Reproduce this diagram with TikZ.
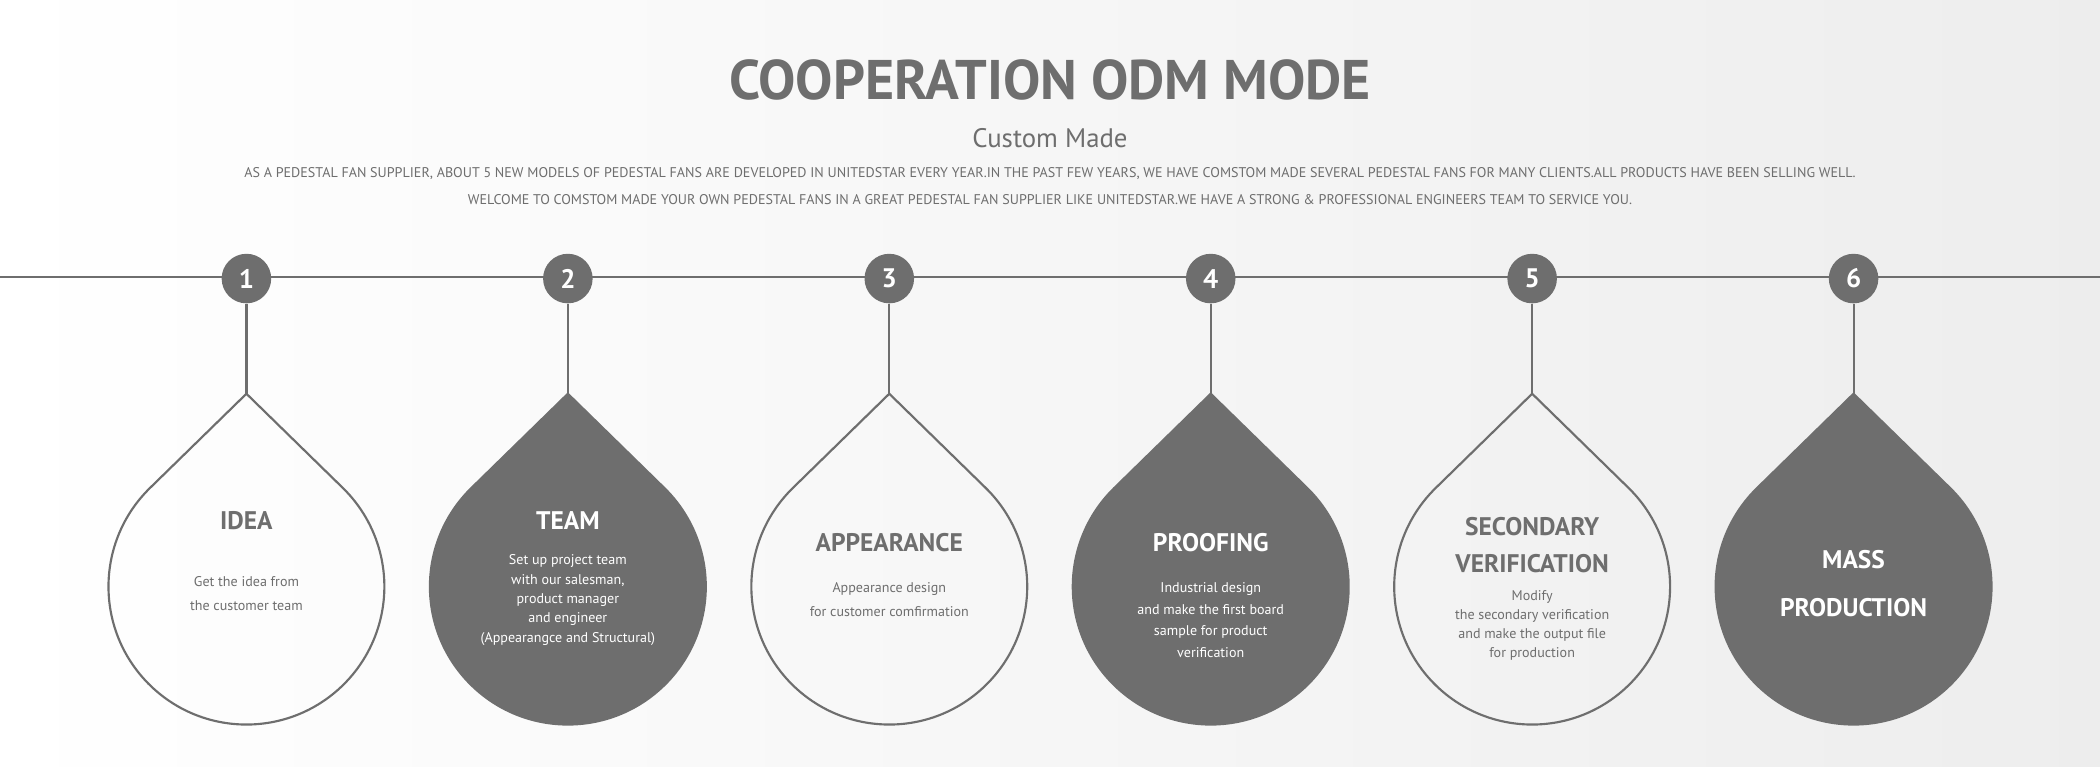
\documentclass[tikz,border=0pt]{standalone}
\usepackage{fontspec}
\setmainfont{PT Sans}
\usetikzlibrary{calc}
\definecolor{dg}{HTML}{6E6E6E}
\tikzset{
  drop/.style={line width=1.6pt,draw=dg},
  num/.style={circle,fill=dg,minimum size=37pt,inner sep=0pt,text=white,font=\fontsize{20}{20}\selectfont\bfseries},
  head/.style={font=\fontsize{19}{22}\selectfont\bfseries,align=center},
  body/.style={font=\fontsize{10.5}{16}\selectfont,align=center},
}
\newcommand{\dropat}[3]{% x, style, name
  \coordinate (#3-c) at (#1,134);
  \coordinate (#3-t) at (#1,278);
  \path[drop,#2] (#3-t) -- ($(#3-c)+(134.4:103)$) arc[start angle=134.4,end angle=405.6,radius=103] -- cycle;
}
\begin{document}
\begin{tikzpicture}[x=1pt,y=1pt]
\shade[left color=white,right color=black!7] (0,0) rectangle (1568,572);
\useasboundingbox (0,0) rectangle (1568,572);
\node[text=dg,font=\fontsize{41.7}{42}\selectfont\bfseries] (title) at (784,512) {COOPERATION ODM MODE};
\node[text=dg,font=\fontsize{20}{20}\selectfont] (sub) at (784,469) {Custom Made};
\node[text=dg,font=\fontsize{10.5}{20}\selectfont,align=center] (desc) at (784,433) {AS A PEDESTAL FAN SUPPLIER, ABOUT 5 NEW MODELS OF PEDESTAL FANS ARE DEVELOPED IN UNITEDSTAR EVERY YEAR.IN THE PAST FEW YEARS, WE HAVE COMSTOM MADE SEVERAL PEDESTAL FANS FOR MANY CLIENTS.ALL PRODUCTS HAVE BEEN SELLING WELL.\\WELCOME TO COMSTOM MADE YOUR OWN PEDESTAL FANS IN A GREAT PEDESTAL FAN SUPPLIER LIKE UNITEDSTAR.WE HAVE A STRONG \& PROFESSIONAL ENGINEERS TEAM TO SERVICE YOU.};
\coordinate (L) at (0,365); \coordinate (R) at (1568,365);
\draw[dg,line width=1.6pt] (L) -- (R);
\foreach \i/\x/\s in {1/184/none,2/424/dg,3/664/none,4/904/dg,5/1144/none,6/1384/dg}{
  \dropat{\x}{fill=\s}{d\i}
  \node[num] (n\i) at (\x,364) {\i};
  \draw[dg,line width=1.6pt] (n\i) -- (d\i-t);
}
\tikzset{o/.style={text=dg},w/.style={text=white}}
\node[head,o] (h1) at (184,183) {IDEA};
\node[body,o] (b1) at (184,129) {Get the idea from\\[2pt]the customer team};
\node[head,w] (h2) at (424,183) {TEAM};
\node[body,w,font=\fontsize{10.5}{14.5}\selectfont] (b2) at (424,124) {Set up project team\\with our salesman,\\product manager\\and engineer\\(Appearangce and Structural)};
\node[head,o] (h3) at (664,167) {APPEARANCE};
\node[body,o] (b3) at (664,124) {Appearance design\\[2pt]for customer comfirmation};
\node[head,w] (h4) at (904,167) {PROOFING};
\node[body,w] (b4) at (904,109) {Industrial design\\and make the first board\\sample for product\\verification};
\node[head,o,font=\fontsize{19}{27}\selectfont\bfseries] (h5) at (1144,165) {SECONDARY\\VERIFICATION};
\node[body,o,font=\fontsize{10.5}{14}\selectfont] (b5) at (1144,105) {Modify\\the secondary verification\\and make the output file\\for production};
\node[head,w,font=\fontsize{19}{36}\selectfont\bfseries] (h6) at (1384,136) {MASS\\PRODUCTION};
\end{tikzpicture}
\end{document}
